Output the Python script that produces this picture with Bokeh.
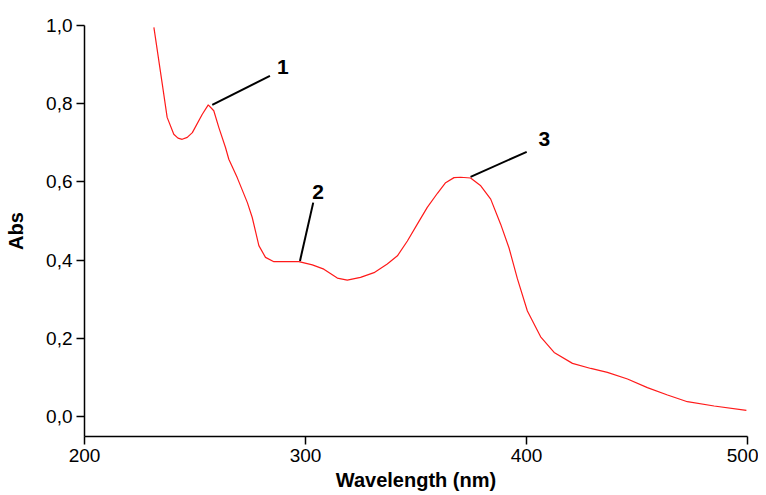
from bokeh.plotting import figure
from bokeh.models import Range1d, FixedTicker, CustomJSTickFormatter, ColumnDataSource
from bokeh.core.properties import value
from bokeh.embed import file_html
from bokeh.resources import INLINE

# Spectrum
wavelength = [231.4, 235.2, 237.4, 240.4, 242.3, 244.2, 246.5, 248.8, 253.3, 256.0, 258.5, 260.8,
              263.8, 265.3, 269.1, 273.7, 275.9, 278.9, 281.9, 285.7, 291.8, 297.0,
              303.1, 308.3, 314.4, 318.9, 324.9, 331.0, 337.0, 341.6, 346.1, 350.6,
              355.1, 359.7, 363.4, 367.2, 370.2, 374.7, 379.3, 383.8, 388.3, 392.1,
              395.9, 400.4, 406.4, 412.5, 420.8, 429.1, 436.6, 445.7, 454.7, 463.8,
              472.8, 484.9, 499.5]
absorbance = [0.995, 0.850, 0.765, 0.722, 0.712, 0.709, 0.714, 0.726, 0.773, 0.797, 0.782, 0.739,
              0.688, 0.658, 0.611, 0.547, 0.509, 0.437, 0.407, 0.396, 0.396, 0.396,
              0.388, 0.377, 0.354, 0.349, 0.356, 0.368, 0.390, 0.411, 0.449, 0.492,
              0.535, 0.571, 0.598, 0.611, 0.612, 0.610, 0.590, 0.556, 0.492, 0.431,
              0.352, 0.270, 0.204, 0.164, 0.136, 0.123, 0.113, 0.096, 0.074, 0.055,
              0.038, 0.027, 0.016]

# Peak annotations
peak_labels = ["1", "2", "3"]
peak_x = [257.8, 297.5, 374.7]
peak_y = [0.797, 0.398, 0.613]
leader_x = [283.9, 303.5, 400.1]
leader_y = [0.871, 0.547, 0.677]
label_x = [289.7, 305.7, 408.1]
label_y = [0.895, 0.574, 0.711]

x_ticks = [200, 300, 400, 500]
y_ticks = [0.0, 0.2, 0.4, 0.6, 0.8, 1.0]

FONT = "Liberation Sans"

p = figure(width=758, height=493, output_backend="svg", toolbar_location=None,
           x_range=Range1d(200, 500), y_range=Range1d(-0.051, 1.0),
           min_border_left=84, min_border_right=11, min_border_top=25, min_border_bottom=57)
p.background_fill_color = "white"
p.border_fill_color = "white"
p.outline_line_color = None
p.grid.grid_line_color = None

p.line(wavelength, absorbance, line_color="#ff1a1a", line_width=1.2)

p.segment(x0=peak_x, y0=peak_y, x1=leader_x, y1=leader_y, line_color="black", line_width=2)
src = ColumnDataSource(dict(x=label_x, y=label_y, t=peak_labels))
p.text(x="x", y="y", text="t", source=src, text_align="center", text_baseline="middle",
       text_font=value(FONT), text_font_size=value("21px"), text_font_style="bold",
       text_color="black")

for ax in (p.xaxis[0], p.yaxis[0]):
    ax.axis_line_color = "black"
    ax.axis_line_width = 1.5
    ax.major_tick_line_color = "black"
    ax.major_tick_line_width = 1.5
    ax.major_tick_out = 8
    ax.major_tick_in = 0
    ax.minor_tick_line_color = None
    ax.major_label_text_font = FONT
    ax.major_label_text_font_size = "19px"
    ax.major_label_text_color = "black"
    ax.axis_label_text_font = FONT
    ax.axis_label_text_font_size = "20px"
    ax.axis_label_text_font_style = "bold"
    ax.axis_label_text_color = "black"

p.xaxis.ticker = FixedTicker(ticks=x_ticks)
p.yaxis.ticker = FixedTicker(ticks=y_ticks)
p.yaxis.formatter = CustomJSTickFormatter(code="return tick.toFixed(1).replace('.', ',');")
p.xaxis.axis_label = "Wavelength (nm)"
p.yaxis.axis_label = "Abs"
p.xaxis.major_label_standoff = 4
p.yaxis.major_label_standoff = 4
p.xaxis.axis_label_standoff = 4
p.yaxis.axis_label_standoff = 16

open("out.html", "w").write(file_html(p, INLINE))
